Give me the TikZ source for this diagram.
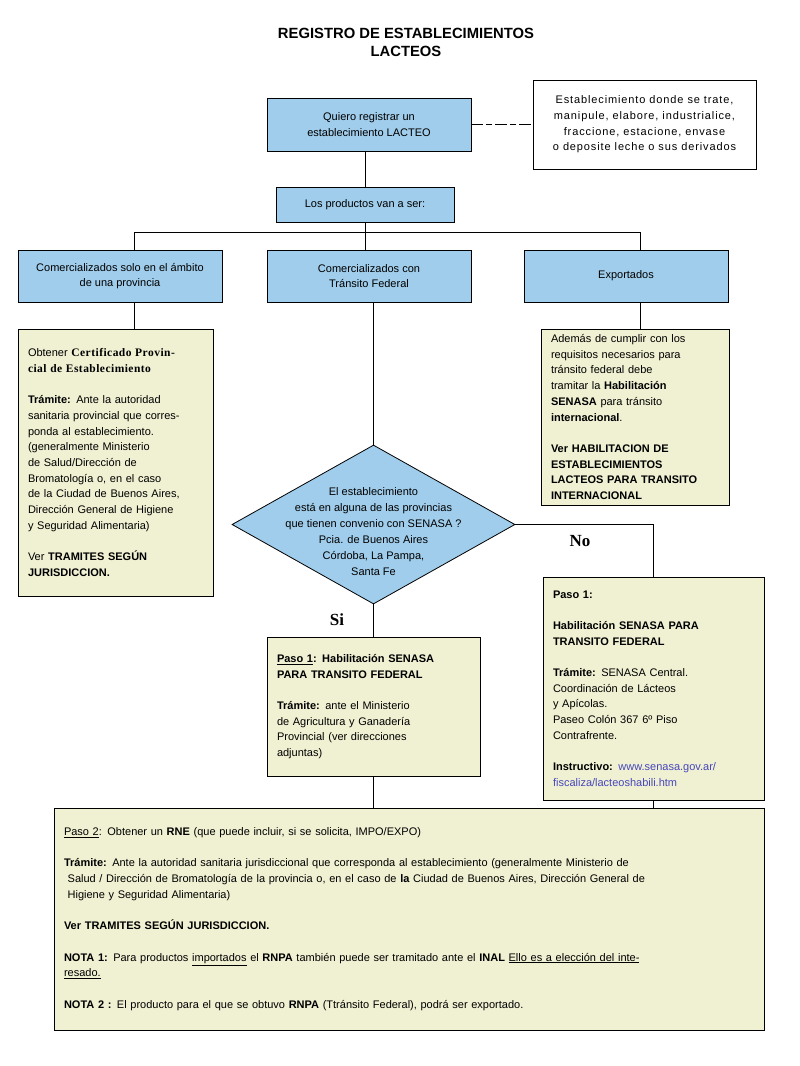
\documentclass[tikz,border=0pt]{standalone}
\usepackage{fontspec}
\setmainfont{Liberation Sans}
\newfontfamily\serifb[LetterSpace=4]{Liberation Serif}
\newfontfamily\serifl{Liberation Serif}
\newfontfamily\spacedfont[LetterSpace=8]{Liberation Sans}
\usepackage{xcolor}
\usepackage{tikz}
\usetikzlibrary{shapes.geometric,positioning}
\definecolor{cajaazul}{RGB}{160,205,235}
\definecolor{cajaamarilla}{RGB}{240,240,210}
\definecolor{enlace}{RGB}{70,70,190}
\tikzstyle{azul} = [draw, line width=0.8pt, fill=cajaazul, align=center, inner sep=0pt, font=\fontsize{11}{15.5}\selectfont]
\tikzstyle{amarilla} = [draw, line width=0.8pt, fill=cajaamarilla, align=left, inner ysep=0pt, inner xsep=10pt, font=\fontsize{11}{15.7}\selectfont]
\tikzstyle{decision} = [draw, line width=0.8pt, diamond, fill=cajaazul, inner sep=0pt, minimum width=283pt, minimum height=159pt]
\tikzstyle{linea} = [line width=0.9pt]
\newcommand{\gap}{\\[15.7pt]}

\begin{document}
\begin{tikzpicture}[x=1pt, y=-1pt]
\useasboundingbox (0,0) rectangle (800,1066);
% titulo
\node[font=\bfseries\fontsize{14.8}{18}\selectfont] (tit1) at (406,33) {REGISTRO DE ESTABLECIMIENTOS};
\node[font=\bfseries\fontsize{14.8}{18}\selectfont] (tit2) at (406,51) {LACTEOS};

% fila superior
\node[azul, minimum width=204pt, minimum height=53pt] (quiero) at (369,124.5) {Quiero registrar un\\establecimiento LACTEO};
\node[draw, line width=0.8pt, align=center, minimum width=223pt, minimum height=89pt, font=\spacedfont\fontsize{11}{15.7}\selectfont] (def) at (644.5,124.5)
  {Establecimiento donde se trate,\\manipule, elabore, industrialice,\\fraccione, estacione, envase\\ o deposite leche o sus derivados};
\node[azul, minimum width=178pt, minimum height=35pt] (productos) at (365,204.5) {Los productos van a ser:};

% destino de los productos
\node[azul, minimum width=204pt, minimum height=52pt] (provincia) at (120,276) {Comercializados solo en el ámbito\\de una provincia};
\node[azul, minimum width=204pt, minimum height=52pt] (federal) at (369,276) {Comercializados con\\Tránsito Federal};
\node[azul, minimum width=204pt, minimum height=52pt] (exporta) at (626,276) {Exportados};

% cajas de tramites
\node[amarilla, text width=175pt, minimum height=267pt] (certif) at (115.5,462.5)
  {Obtener {\serifb\bfseries\fontsize{11.5}{15.7}\selectfont Certificado Provin-}\\{\serifb\bfseries\fontsize{11.5}{15.7}\selectfont cial de Establecimiento}\gap
   \textbf{Trámite:} Ante la autoridad\\sanitaria provincial que corres-\\ponda al establecimiento.\\(generalmente Ministerio\\de Salud/Dirección de\\Bromatología o, en el caso\\de la Ciudad de Buenos Aires,\\Dirección General de Higiene\\y Seguridad Alimentaria)\gap
   Ver \textbf{TRAMITES SEGÚN}\\\textbf{JURISDICCION.}};
\node[amarilla, text width=168pt, minimum height=176pt] (internac) at (635,417)
  {Además de cumplir con los\\requisitos necesarios para\\tránsito federal debe\\tramitar la \textbf{Habilitación}\\\textbf{SENASA} para tránsito\\\textbf{internacional}.\gap
   \textbf{Ver HABILITACION DE}\\\textbf{ESTABLECIMIENTOS}\\\textbf{LACTEOS PARA TRANSITO}\\\textbf{INTERNACIONAL}};

% pregunta
\node[decision, label={[align=center, yshift=-7pt, font=\fontsize{11}{16}\selectfont]center:El establecimiento\\está en alguna de las provincias\\que tienen convenio con SENASA ?\\Pcia. de Buenos Aires\\Córdoba, La Pampa,\\Santa Fe}] (conv) at (373.5,524.5) {};
\node[font=\serifl\bfseries\fontsize{17}{20}\selectfont] (no) at (580,541) {No};
\node[font=\serifl\bfseries\fontsize{17}{20}\selectfont] (si) at (337,620) {Si};

\node[amarilla, text width=201pt, minimum height=223pt] (senasa) at (653.5,688.5)
  {\textbf{Paso 1:}\gap\textbf{Habilitación SENASA PARA}\\\textbf{TRANSITO FEDERAL}\gap
   \textbf{Trámite:} SENASA Central.\\Coordinación de Lácteos\\y Apícolas.\\Paseo Colón 367 6º Piso\\Contrafrente.\gap
   \textbf{Instructivo:} \textcolor{enlace}{www.senasa.gov.ar/}\\\textcolor{enlace}{fiscaliza/lacteoshabili.htm}};
\node[amarilla, text width=193pt, minimum height=139pt] (ministerio) at (373.5,706.5)
  {\textbf{\underline{Paso 1}: Habilitación SENASA}\\\textbf{PARA TRANSITO FEDERAL}\gap
   \textbf{Trámite:} ante el  Ministerio\\de Agricultura y Ganadería\\Provincial (ver direcciones\\adjuntas)};
\node[amarilla, text width=690pt, minimum height=222pt] (rne) at (409,919)
  {\underline{Paso 2}: Obtener un \textbf{RNE} (que puede  incluir, si se solicita, IMPO/EXPO)\gap
   \textbf{Trámite:} Ante la autoridad  sanitaria jurisdiccional que corresponda al establecimiento (generalmente Ministerio de\\
   \ Salud / Dirección de Bromatología de la provincia o, en el caso de \textbf{la} Ciudad de Buenos Aires, Dirección General de\\
   \ Higiene y Seguridad Alimentaria)\gap
   \textbf{Ver TRAMITES SEGÚN JURISDICCION.}\gap
   \textbf{NOTA 1:} Para productos \underline{importados} el \textbf{RNPA} también puede ser tramitado ante el \textbf{INAL} \underline{Ello es a elección del inte-}\\
   \underline{resado.}\gap
   \textbf{NOTA 2 :} El producto para el que se obtuvo \textbf{RNPA} (Ttránsito Federal), podrá ser exportado.};

% conectores
\coordinate (busL) at (134,232);
\coordinate (busR) at (640,232);
\draw[linea] (productos.north |- quiero.south) -- (productos.north);
\draw[linea, dash pattern=on 12pt off 3pt on 6pt off 3pt] (quiero.east) -- (def.west);
\draw[linea] (productos.south) -- (productos.south |- busL);
\draw[linea] (busL) -- (busR);
\draw[linea] (busL) -- (busL |- provincia.north);
\draw[linea] (productos.south |- busL) -- (productos.south |- federal.north);
\draw[linea] (busR) -- (busR |- exporta.north);
\draw[linea] (busL |- provincia.south) -- (busL |- certif.north);
\draw[linea] (busR |- exporta.south) -- (busR |- internac.north);
\draw[linea] (conv.north |- federal.south) -- (conv.north);
\draw[linea] (conv.east) -| (senasa.north);
\draw[linea] (conv.south) -- (ministerio.north);
\draw[linea] (ministerio.south) -- (ministerio.south |- rne.north);
\draw[linea] (senasa.south) -- (senasa.south |- rne.north);
\end{tikzpicture}
\end{document}
